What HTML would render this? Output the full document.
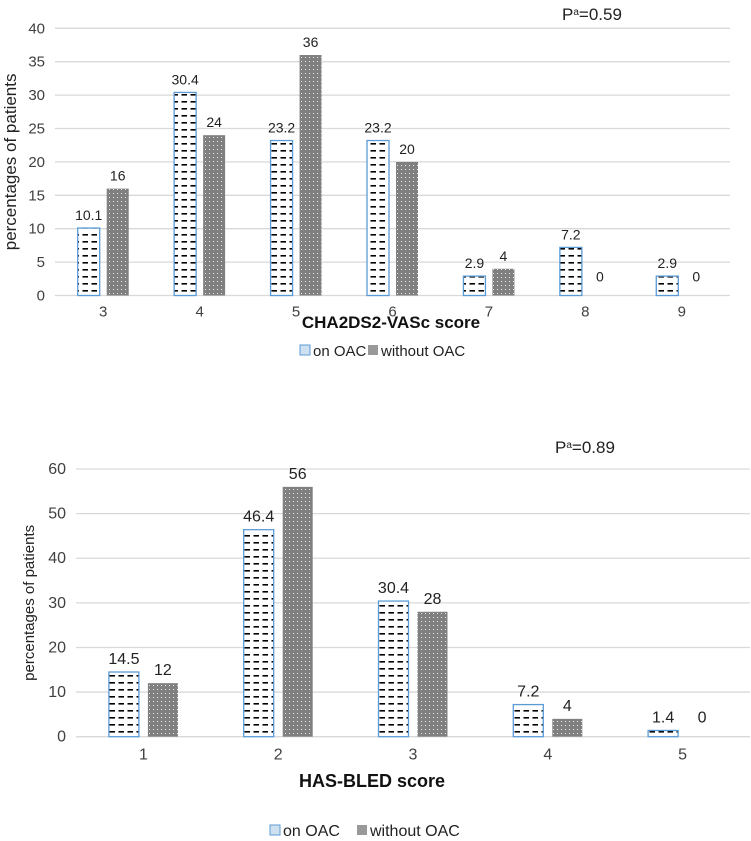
<!DOCTYPE html>
<html><head><meta charset="utf-8"><style>
body{margin:0;background:#fff;}
svg{display:block;font-family:"Liberation Sans",Arial,sans-serif;}
</style></head><body>
<svg id="s" width="751" height="841" xmlns="http://www.w3.org/2000/svg">
<defs>
<pattern id="dash" width="9" height="7" patternUnits="userSpaceOnUse">
<rect width="9" height="7" fill="#fff"/><rect x="1.5" y="3" width="5.5" height="1.6" fill="#000"/>
</pattern>
<pattern id="dot" width="4" height="4" patternUnits="userSpaceOnUse">
<rect width="4" height="4" fill="#808080"/><rect x="1" y="1" width="1" height="1" fill="#e8e8e8"/>
</pattern>
</defs>
</svg>
<script>
const cats1 = ['3','4','5','6','7','8','9'];
const onOAC1 = [10.1,30.4,23.2,23.2,2.9,7.2,2.9];
const withoutOAC1 = [16,24,36,20,4,0,0];
const ticks1 = [0,5,10,15,20,25,30,35,40];
const cats2 = ['1','2','3','4','5'];
const onOAC2 = [14.5,46.4,30.4,7.2,1.4];
const withoutOAC2 = [12,56,28,4,0];
const ticks2 = [0,10,20,30,40,50,60];

const NS='http://www.w3.org/2000/svg';
const svg=document.getElementById('s');
function mk(tag,attrs,parent,text){
  const e=document.createElementNS(NS,tag);
  for(const k in attrs)e.setAttribute(k,attrs[k]);
  if(text!==undefined)e.textContent=text;
  (parent||svg).appendChild(e);return e;
}
function chart(cfg){
  const g=mk('g',{});
  
  
  const max=cfg.ticks[cfg.ticks.length-1];
  const y=v=>cfg.y0-(v/max)*(cfg.y0-cfg.yTop);
  const band=(cfg.x1-cfg.x0)/cfg.cats.length;
  const xc=i=>cfg.x0+band*(i+0.5);
  cfg.ticks.forEach(t=>{
    const l=mk('line',{x1:cfg.x0,x2:cfg.x1,y1:y(t),y2:y(t),stroke:'#d9d9d9','stroke-width':1.3},g);
    
    
    const tx=mk('text',{x:cfg.x0-10,y:y(t)+5,'text-anchor':'end','font-size':cfg.tfs,fill:'#404040'},g,String(t));
    
    
  });
  cfg.cats.forEach((c,i)=>{
    const cx=xc(i);
    const a=cfg.on[i], b=cfg.wo[i];
    if(a>0){
      const r=mk('rect',{x:cx-cfg.off-cfg.bw,y:y(a),width:cfg.bw,height:y(0)-y(a),fill:'url(#dash)',stroke:'#5b9bd5','stroke-width':1.3},g);
      
      
    }
    const la=mk('text',{x:cx-cfg.off-cfg.bw/2,y:y(a)-8,'text-anchor':'middle','font-size':cfg.vfs,fill:'#222'},g,String(a));
    
    
    if(b>0){
      const r=mk('rect',{x:cx+cfg.off,y:y(b),width:cfg.bw,height:y(0)-y(b),fill:'url(#dot)'},g);
      
      
    }
    const lb=mk('text',{x:cx+cfg.off+cfg.bw/2,y:b>0?y(b)-8:y(0)-14,'text-anchor':'middle','font-size':cfg.vfs,fill:'#222'},g,String(b));
    
    
    const xt=mk('text',{x:cx,y:cfg.y0+cfg.xtOff,'text-anchor':'middle','font-size':cfg.tfs,fill:'#404040'},g,c);
    
    
  });
  const yt=mk('text',{x:0,y:0,transform:`translate(${cfg.ytx},${(cfg.y0+cfg.yTop)/2}) rotate(-90)`,'text-anchor':'middle','font-size':cfg.yfs,fill:'#222'},g,'percentages of patients');
  
  
  const xtt=mk('text',{x:cfg.xtX,y:cfg.xtY,'text-anchor':'middle','font-size':cfg.xfs,'font-weight':'bold',fill:'#111'},g,cfg.xtitle);
  
  
  const p=mk('text',{x:cfg.px,y:cfg.py,'font-size':17,fill:'#222'},g);
  
  
  mk('tspan',{},p,'P');
  mk('tspan',{'font-size':10,dy:-5},p,'a');
  mk('tspan',{dy:5},p,'='+cfg.pval);
  const lg=mk('g',{},g);
  
  
  const m1=mk('rect',{x:cfg.lx,y:cfg.ly-11,width:10,height:10,fill:'#cfe0f0',stroke:'#5b9bd5','stroke-width':1},lg);
  
  
  const t1=mk('text',{x:cfg.lx+13,y:cfg.ly,'font-size':cfg.lfs,fill:'#222'},lg,'on OAC');
  
  
  const m2=mk('rect',{x:cfg.lx2,y:cfg.ly-11,width:10,height:10,fill:'#999'},lg);
  
  
  const t2=mk('text',{x:cfg.lx2+13,y:cfg.ly,'font-size':cfg.lfs,fill:'#222'},lg,'without OAC');
  
  
}
chart({name:'chart-cha2ds2-vasc',cats:cats1,on:onOAC1,wo:withoutOAC1,ticks:ticks1,x0:55,x1:730,y0:295.5,yTop:28.3,bw:22,off:3.5,ytx:16,yfs:17,tfs:15,vfs:14,xtOff:21,xfs:17,lfs:15,
  xtitle:'CHA2DS2-VASc score',xtX:391,xtY:328,px:562,py:20,pval:'0.59',lx:300,lx2:368,ly:356});
chart({name:'chart-has-bled',cats:cats2,on:onOAC2,wo:withoutOAC2,ticks:ticks2,x0:76,x1:750,y0:736.7,yTop:469,bw:30,off:4.5,ytx:34,yfs:15,tfs:16,vfs:16,xtOff:23,xfs:18,lfs:16,
  xtitle:'HAS-BLED score',xtX:372,xtY:787,px:555,py:453,pval:'0.89',lx:270,lx2:357,ly:836});
</script>
</body></html>
